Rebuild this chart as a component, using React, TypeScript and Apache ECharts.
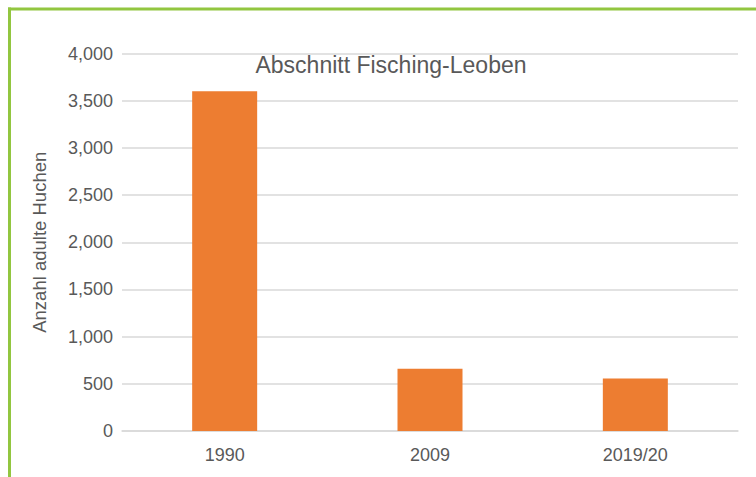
import React, { useEffect, useRef } from "react";
import * as echarts from "echarts";

const categories = ["1990", "2009", "2019/20"];
const values = [3600, 660, 555];
const titleText = "Abschnitt Fisching-Leoben";
const yAxisName = "Anzahl adulte Huchen";

export default function App() {
  const ref = useRef<HTMLDivElement>(null);
  useEffect(() => {
    document.body.style.margin = "0";
    const chart = echarts.init(ref.current!, null, { renderer: "svg" });
    const font = "'Liberation Sans', Arial, sans-serif";
    chart.setOption({
      animation: false,
      backgroundColor: "#ffffff",
      textStyle: { fontFamily: font },
      title: {
        text: titleText,
        left: 386,
        top: 48,
        textAlign: "center",
        textStyle: { fontSize: 23, fontWeight: "normal", color: "#595959", fontFamily: font },
      },
      graphic: [
        { type: "rect", shape: { x: 8, y: 7.5, width: 748, height: 3 }, style: { fill: "#92C640" } },
        { type: "rect", shape: { x: 8, y: 7.5, width: 3, height: 470 }, style: { fill: "#92C640" } },
      ],
      grid: { left: 122, right: 18, top: 53.5, bottom: 46, containLabel: false },
      xAxis: {
        type: "category",
        data: categories,
        axisLine: { show: true, lineStyle: { color: "#D9D9D9", width: 1.5 } },
        axisTick: { show: false },
        axisLabel: { color: "#595959", fontSize: 18, margin: 15, fontFamily: font },
      },
      yAxis: {
        type: "value",
        min: 0,
        max: 4000,
        interval: 500,
        name: yAxisName,
        nameLocation: "middle",
        nameGap: 73,
        nameTextStyle: { color: "#595959", fontSize: 18.5, fontFamily: font },
        axisLine: { show: false },
        axisTick: { show: false },
        splitLine: { lineStyle: { color: "#D9D9D9", width: 1.5 } },
        axisLabel: {
          color: "#595959",
          fontSize: 18,
          margin: 9,
          fontFamily: font,
          formatter: (v: number) => v.toLocaleString("en-US"),
        },
      },
      series: [
        {
          type: "bar",
          data: values,
          barWidth: 65,
          itemStyle: { color: "#ED7D31" },
        },
      ],
    });
    return () => chart.dispose();
  }, []);
  return <div ref={ref} style={{ width: 756, height: 477 }} />;
}
